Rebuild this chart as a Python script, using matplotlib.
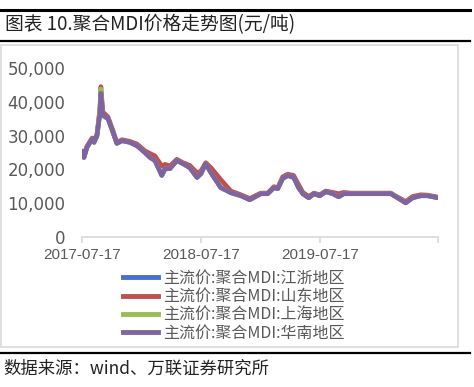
import matplotlib
matplotlib.use("Agg")
from matplotlib import pyplot as plt
from matplotlib.ticker import FuncFormatter
from matplotlib.lines import Line2D
from matplotlib.patches import Rectangle
import numpy as np

plt.rcParams['font.family'] = ['Noto Sans CJK SC', 'DejaVu Sans']

dates = ["2017-07-17", "2017-07-23", "2017-08-01", "2017-08-17", "2017-08-23",
         "2017-09-01", "2017-09-10", "2017-09-13", "2017-09-19", "2017-10-05",
         "2017-10-20", "2017-11-01", "2017-11-17", "2017-12-11", "2018-01-02",
         "2018-01-26", "2018-02-11", "2018-02-26", "2018-03-19", "2018-03-29",
         "2018-04-13", "2018-05-04", "2018-05-23", "2018-06-13", "2018-07-05",
         "2018-07-17", "2018-08-01", "2018-08-17", "2018-09-16", "2018-10-17",
         "2018-11-17", "2018-12-14", "2019-01-17", "2019-02-07", "2019-02-26",
         "2019-03-10", "2019-03-25", "2019-04-10", "2019-04-28", "2019-05-13",
         "2019-05-26", "2019-06-13", "2019-06-29", "2019-07-17", "2019-08-04",
         "2019-08-26", "2019-09-13", "2019-09-29", "2019-10-20", "2019-11-20",
         "2019-12-20", "2020-02-20", "2020-03-12", "2020-04-06", "2020-04-27",
         "2020-05-22", "2020-06-12", "2020-07-14"]

jiangzhe = [25000, 23600, 26500, 29000, 28000, 30000, 37000, 43000, 36000, 35000,
            31000, 27700, 28500, 28000, 27000, 25000, 23600, 22700, 18300, 20200,
            20300, 22600, 21700, 20500, 17700, 18700, 21700, 19000, 14700, 13100,
            12200, 11100, 12800, 12800, 14600, 14300, 17300, 18200, 17600, 14600,
            12800, 11600, 12800, 12200, 13400, 12800, 11900, 12800, 12800, 12800,
            12800, 12800, 11600, 10100, 11600, 12200, 12200, 11600]
shandong = [25300, 24000, 26800, 29300, 28300, 30500, 38000, 44500, 37000, 35500,
            31500, 28000, 28800, 28300, 27500, 25500, 24700, 24000, 21000, 21500,
            21000, 23000, 22000, 21200, 19000, 19500, 22000, 20500, 17000, 13600,
            12500, 11400, 13000, 13000, 14900, 14600, 17800, 18600, 18200, 15500,
            13200, 12000, 13000, 12500, 13600, 13200, 12800, 13200, 13000, 13000,
            13000, 13000, 11800, 10500, 12000, 12500, 12400, 11800]
shanghai = [25000, 23500, 26500, 29000, 28000, 30000, 37500, 43800, 36000, 35000,
            31000, 27700, 28500, 28000, 27000, 25000, 23500, 22600, 18200, 20200,
            20200, 22600, 21700, 20500, 17600, 18700, 21700, 19000, 14600, 13100,
            12200, 11000, 12800, 12800, 14600, 14300, 17300, 18200, 17600, 14600,
            12800, 11600, 12800, 12200, 13400, 12800, 11900, 12800, 12800, 12800,
            12800, 12800, 11600, 10100, 11600, 12200, 12200, 11600]
huanan = [25000, 23500, 26500, 29000, 28000, 30000, 36500, 42500, 36000, 35000,
          31000, 27700, 28500, 28000, 27000, 25000, 23500, 22600, 18200, 20200,
          20200, 22600, 21700, 20500, 17600, 18700, 21700, 19000, 14600, 13100,
          12200, 11000, 12800, 12800, 14600, 14300, 17300, 18200, 17600, 14600,
          12800, 11600, 12800, 12200, 13400, 12800, 11900, 12800, 12800, 12800,
          12800, 12800, 11600, 10100, 11600, 12200, 12200, 11600]

labels = ["主流价:聚合MDI:江浙地区", "主流价:聚合MDI:山东地区",
          "主流价:聚合MDI:上海地区", "主流价:聚合MDI:华南地区"]
colors = ["#4472C4", "#C0504D", "#9BBB59", "#8064A2"]
xticks = ["2017-07-17", "2018-07-17", "2019-07-17", "2020-07-14"]

x = np.array(dates, dtype="datetime64[D]")

fig = plt.figure(figsize=(4.74, 3.87), dpi=100)
ax = fig.add_axes([82 / 474, 1 - 237 / 387, (438 - 82) / 474, (237 - 68) / 387])

for vals, c in zip([jiangzhe, shandong, shanghai, huanan], colors):
    ax.plot(x, vals, color=c, lw=3.3, solid_joinstyle="round")

ax.set_ylim(0, 50000)
ax.set_xlim(x[0], x[-1])
ax.set_yticks(np.arange(0, 50001, 10000))
ax.yaxis.set_major_formatter(FuncFormatter(lambda v, p: f"{int(v):,}"))
ax.set_xticks(np.array(xticks, dtype="datetime64[D]"))
ax.set_xticklabels(xticks[:3] + [""])

for s in ["top", "right", "left"]:
    ax.spines[s].set_visible(False)
ax.spines["bottom"].set_color("#D9D9D9")
ax.spines["bottom"].set_linewidth(1.2)
ax.tick_params(axis="y", length=0, pad=12, labelsize=12, labelcolor="#595959")
ax.tick_params(axis="x", length=4, color="#D9D9D9", width=1.2, pad=4,
               labelsize=11, labelcolor="#595959")
for t in ax.get_yticklabels():
    t.set_fontfamily("DejaVu Sans")
for t in ax.get_xticklabels():
    t.set_fontfamily("Liberation Sans")

handles = [Line2D([], [], color=c, lw=3.5) for c in colors]
fig.legend(handles, labels, loc="upper left", bbox_to_anchor=(115 / 474, 1 - 262 / 387),
           frameon=False, fontsize=11.5, handlelength=2.2, handletextpad=0.3,
           labelspacing=0.08, borderpad=0, labelcolor="#595959")

# frame and rules
fig.add_artist(Rectangle((1 / 474, 1 - 347 / 387), 457 / 474, 302 / 387,
                         transform=fig.transFigure, fill=False, ec="#D9D9D9", lw=1.2))
fig.add_artist(Line2D([0, 470 / 474], [1 - 10 / 387] * 2, color="black", lw=2.2))
fig.add_artist(Line2D([0, 470 / 474], [1 - 41 / 387] * 2, color="black", lw=1.6))
fig.add_artist(Line2D([0, 470 / 474], [1 - 353 / 387] * 2, color="black", lw=1.6))

fig.text(5 / 474, 1 - 25 / 387, "图表 10.聚合MDI价格走势图(元/吨)", fontsize=13.5,
         va="center", ha="left", color="#222222")
fig.text(3 / 474, 1 - 369 / 387, "数据来源：wind、万联证券研究所", fontsize=12.5,
         va="center", ha="left", color="#222222")

fig.savefig("out.png", dpi=100)
